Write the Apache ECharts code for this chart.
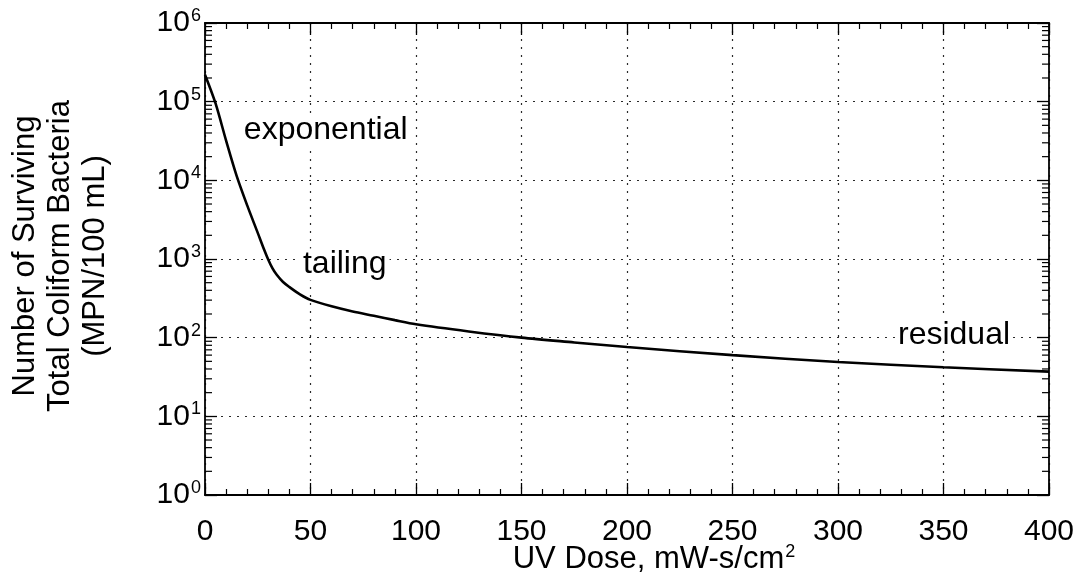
<!DOCTYPE html>
<html>
<head>
<meta charset="utf-8">
<script src="https://cdn.jsdelivr.net/npm/echarts@6/dist/echarts.min.js"></script>
<style>
  html, body { margin: 0; padding: 0; background: #fff; }
  #chart { width: 1082px; height: 586px; }
</style>
</head>
<body>
<div id="chart"></div>
<script>
// UV dose (mW-s/cm^2) and surviving total coliform (MPN/100 mL)
const doses = [0, 5, 10, 15, 20, 25, 28, 30, 32, 34, 37, 40, 45, 50, 60, 70, 80, 90, 100, 125, 150, 175, 200, 250, 300, 350, 400];
const survivors = [220000, 95000, 32000, 11400, 4800, 2150, 1320, 980, 760, 630, 510, 440, 355, 302, 250, 215, 190, 167, 148, 120, 100, 87, 76, 60, 49, 42, 37];

// Axis ranges and tick steps
const xMin = 0, xMax = 400, xStep = 50;
const yMin = 1, yMax = 1e6;
// Log-axis minor tick mantissas within each decade
const minorMantissas = [2, 3, 4, 5, 6, 7, 8, 9];
const decades = [1, 10, 100, 1000, 10000, 100000];

// Region labels: [text, dose at left edge of text, count at text middle]
const regionLabels = [
  ['exponential', 17, 43000],
  ['tailing', 45, 850],
  ['residual', 327, 108]
];

const FONT = '"Liberation Sans", Arial, Helvetica, sans-serif';
const INK = '#000';

const minorTickValues = [];
decades.forEach(d => minorMantissas.forEach(m => minorTickValues.push([xMin, m * d])));

const chart = echarts.init(document.getElementById('chart'), null, { renderer: 'canvas' });

const gridLine = { show: true, lineStyle: { color: '#2a2a2a', width: 1.2, type: [2, 6] } };

const baseX = {
  type: 'value', min: xMin, max: xMax, interval: xStep,
  axisLine: { show: true, onZero: false, lineStyle: { color: INK, width: 1.8 } },
  axisTick: { show: true, inside: true, length: 12, lineStyle: { color: INK, width: 1.3 } },
  minorTick: { show: true, splitNumber: 5, length: 6, lineStyle: { color: INK, width: 1.2 } }
};
const baseY = {
  type: 'log', logBase: 10, min: yMin, max: yMax, splitNumber: 6,
  axisLine: { show: true, onZero: false, lineStyle: { color: INK, width: 1.8 } },
  axisTick: { show: true, inside: true, length: 12, lineStyle: { color: INK, width: 1.3 } },
  minorTick: { show: false }
};

chart.setOption({
  backgroundColor: '#fff',
  animation: false,
  grid: { left: 205, right: 33, top: 23, bottom: 91, containLabel: false },
  xAxis: [
    Object.assign({}, baseX, {
      position: 'bottom',
      axisLabel: { show: true, color: INK, fontFamily: FONT, fontSize: 30, margin: 22 },
      splitLine: gridLine
    }),
    Object.assign({}, baseX, {
      position: 'top',
      axisLabel: { show: false },
      splitLine: { show: false }
    })
  ],
  yAxis: [
    Object.assign({}, baseY, {
      position: 'left',
      axisLabel: {
        show: true, margin: 4,
        formatter: v => '{b|10}{s|' + Math.round(Math.log10(v)) + '}',
        rich: {
          b: { color: INK, fontFamily: FONT, fontSize: 30 },
          s: { color: INK, fontFamily: FONT, fontSize: 18, verticalAlign: 'top', padding: [0, 0, 14, 1] }
        }
      },
      splitLine: gridLine
    }),
    Object.assign({}, baseY, {
      position: 'right',
      axisLabel: { show: false },
      splitLine: { show: false }
    })
  ],
  graphic: [
    {
      type: 'text', x: 654, y: 559,
      style: {
        text: '{t|UV Dose, mW-s/cm}{s|2}',
        align: 'center', verticalAlign: 'middle',
        rich: {
          t: { fill: INK, fontFamily: FONT, fontSize: 31 },
          s: { fill: INK, fontFamily: FONT, fontSize: 18, verticalAlign: 'top', padding: [0, 0, 14, 1] }
        }
      }
    },
    {
      type: 'text', x: 60, y: 256, rotation: Math.PI / 2,
      style: {
        text: 'Number of Surviving\nTotal Coliform Bacteria\n(MPN/100 mL)',
        fill: INK, fontFamily: FONT, fontSize: 31, lineHeight: 35,
        align: 'center', verticalAlign: 'middle'
      }
    }
  ],
  series: [
    {
      name: 'Surviving coliform',
      type: 'line',
      xAxisIndex: 0, yAxisIndex: 0,
      data: doses.map((d, i) => [d, survivors[i]]),
      smooth: 0.3,
      symbol: 'none',
      lineStyle: { color: INK, width: 2.6 },
      z: 5
    },
    {
      name: 'Minor ticks',
      type: 'custom',
      xAxisIndex: 0, yAxisIndex: 0,
      silent: true,
      clip: false,
      data: minorTickValues,
      renderItem: (params, api) => {
        const v = api.value(1);
        const l = api.coord([xMin, v]);
        const r = api.coord([xMax, v]);
        const st = { stroke: INK, lineWidth: 1.2 };
        return {
          type: 'group',
          children: [
            { type: 'line', shape: { x1: l[0], y1: l[1], x2: l[0] + 7, y2: l[1] }, style: st },
            { type: 'line', shape: { x1: r[0] - 7, y1: r[1], x2: r[0], y2: r[1] }, style: st }
          ]
        };
      },
      z: 4
    },
    {
      name: 'Regions',
      type: 'scatter',
      xAxisIndex: 0, yAxisIndex: 0,
      silent: true,
      symbolSize: 0,
      itemStyle: { opacity: 1 },
      data: regionLabels.map(r => ({ name: r[0], value: [r[1], r[2]] })),
      label: {
        show: true, position: 'right', distance: 0,
        formatter: p => p.name,
        color: INK, fontFamily: FONT, fontSize: 32,
        backgroundColor: '#fff', padding: [0, 3, 0, 3]
      },
      z: 6
    }
  ]
});
</script>
</body>
</html>
